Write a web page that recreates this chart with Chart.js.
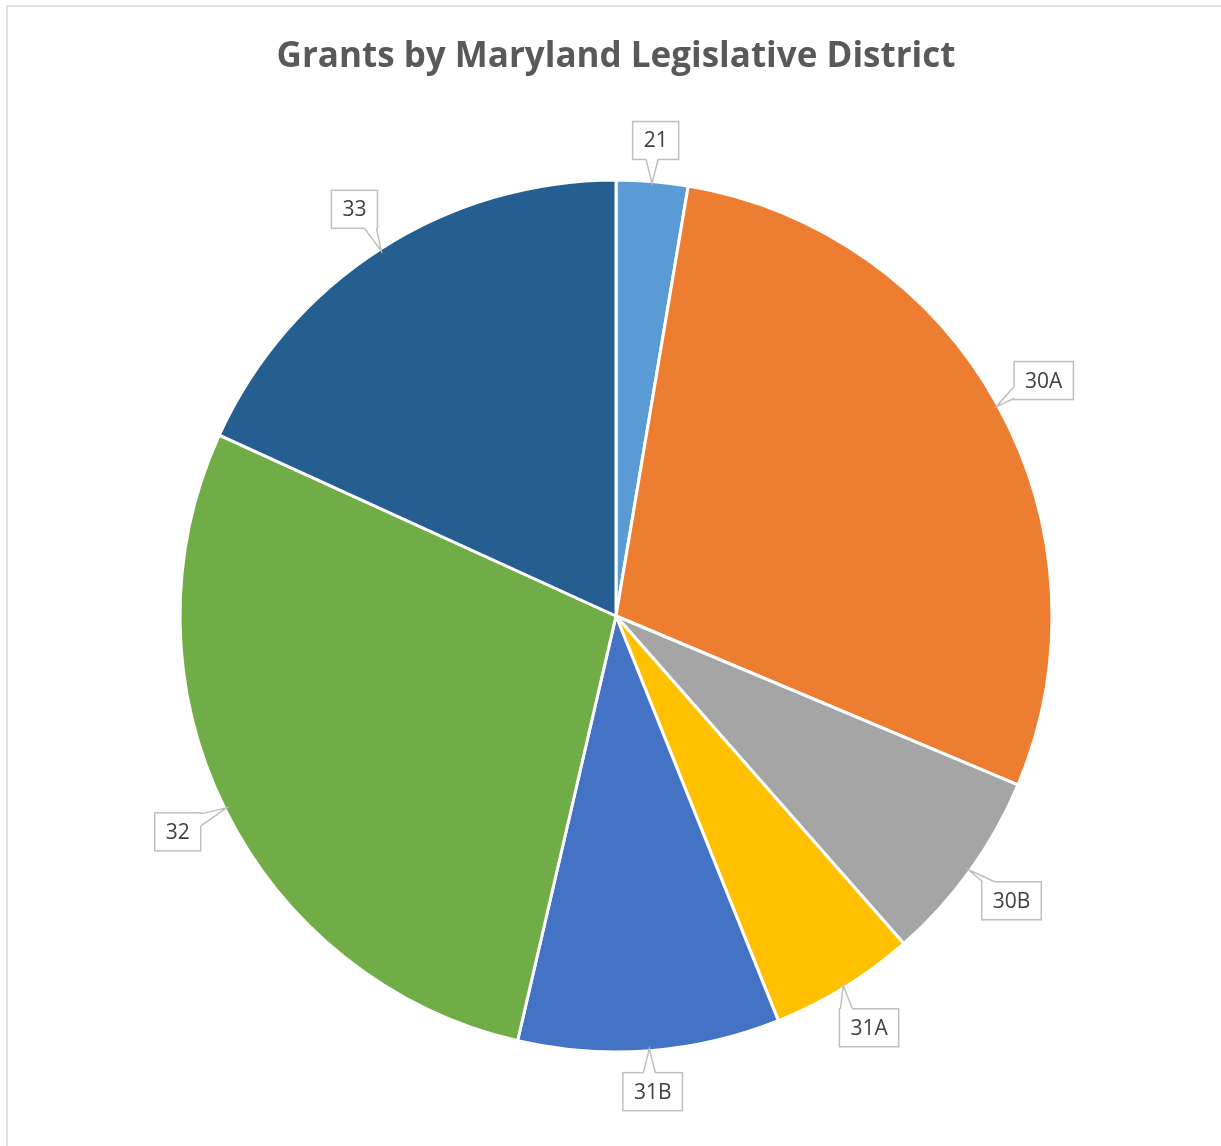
<!DOCTYPE html>
<html>
<head>
<meta charset="utf-8">
<title>Grants by Maryland Legislative District</title>
<script src="https://cdn.jsdelivr.net/npm/chart.js@4.4.0/dist/chart.umd.min.js"></script>
<style>
  body { margin: 0; background: #fff; }
</style>
</head>
<body>
<canvas id="districtChart" width="1221" height="1146"></canvas>
<script>
// share of grants per district (percent)
const districts = ["21", "30A", "30B", "31A", "31B", "32", "33"];
const grantShares = [2.65, 28.7, 7.2, 5.4, 9.7, 28.2, 18.2];
const sliceColors = [
  "#5B9BD5",
  "#ED7D31",
  "#A5A5A5",
  "#FFC000",
  "#4472C4",
  "#70AD47",
  "#255E91",
];

function clamp(v, lo, hi) {
  return Math.max(lo, Math.min(hi, v));
}

// light frame round the chart, like the Excel chart area
const framePlugin = {
  id: "frame",
  beforeDraw(chart) {
    const ctx = chart.ctx;
    ctx.save();
    ctx.strokeStyle = "#D9D9D9";
    ctx.lineWidth = 1.5;
    ctx.beginPath();
    ctx.moveTo(7, chart.height);
    ctx.lineTo(7, 6);
    ctx.lineTo(chart.width, 6);
    ctx.stroke();
    ctx.restore();
  },
};

// callout boxes with a pointer to each slice
const calloutPlugin = {
  id: "callouts",
  afterDatasetsDraw(chart) {
    const ctx = chart.ctx;
    const meta = chart.getDatasetMeta(0);
    ctx.save();
    ctx.font = '21px "Open Sans"';
    ctx.textAlign = "center";
    ctx.textBaseline = "middle";
    meta.data.forEach((arc, i) => {
      const p = arc.getProps(["x", "y", "startAngle", "endAngle", "outerRadius"]);
      const mid = (p.startAngle + p.endAngle) / 2;
      const ux = Math.cos(mid);
      const uy = Math.sin(mid);
      const dist = p.outerRadius + 40 + 14 * Math.abs(ux);
      const cx = p.x + ux * dist;
      const cy = p.y + uy * dist;
      const text = chart.data.labels[i];
      const w = ctx.measureText(text).width + 22;
      const h = 38;
      const hw = w / 2;
      const hh = h / 2;
      const tip = { x: p.x + ux * (p.outerRadius - 2), y: p.y + uy * (p.outerRadius - 2) };

      ctx.fillStyle = "#FFFFFF";
      ctx.strokeStyle = "#BFBFBF";
      ctx.lineWidth = 1.5;
      ctx.fillRect(cx - hw, cy - hh, w, h);
      ctx.strokeRect(cx - hw, cy - hh, w, h);

      // tail base on the edge facing the slice
      const rx = (tip.x - cx) / hw;
      const ry = (tip.y - cy) / hh;
      let b1, b2, in1, in2;
      if (Math.abs(rx) > Math.abs(ry)) {
        const s = Math.sign(rx);
        const ex = cx + s * hw;
        const t = clamp(tip.y, cy - hh + 7, cy + hh - 7);
        b1 = { x: ex, y: t - 6 };
        b2 = { x: ex, y: t + 6 };
        in1 = { x: ex - s * 2, y: t - 6 };
        in2 = { x: ex - s * 2, y: t + 6 };
      } else {
        const s = Math.sign(ry);
        const ey = cy + s * hh;
        const t = clamp(tip.x, cx - hw + 7, cx + hw - 7);
        b1 = { x: t - 6, y: ey };
        b2 = { x: t + 6, y: ey };
        in1 = { x: t - 6, y: ey - s * 2 };
        in2 = { x: t + 6, y: ey - s * 2 };
      }
      ctx.beginPath();
      ctx.moveTo(in1.x, in1.y);
      ctx.lineTo(b1.x, b1.y);
      ctx.lineTo(tip.x, tip.y);
      ctx.lineTo(b2.x, b2.y);
      ctx.lineTo(in2.x, in2.y);
      ctx.closePath();
      ctx.fill();
      ctx.beginPath();
      ctx.moveTo(b1.x, b1.y);
      ctx.lineTo(tip.x, tip.y);
      ctx.lineTo(b2.x, b2.y);
      ctx.stroke();

      ctx.fillStyle = "#404040";
      ctx.fillText(text, cx, cy + 1);
    });
    ctx.restore();
  },
};

const ctxDistrict = document.getElementById("districtChart").getContext("2d");
const districtChart = new Chart(ctxDistrict, {
  type: "pie",
  data: {
    labels: districts,
    datasets: [
      {
        label: "Grants",
        data: grantShares,
        backgroundColor: sliceColors,
        borderColor: "#FFFFFF",
        borderWidth: 3,
      },
    ],
  },
  options: {
    responsive: false,
    animation: false,
    radius: 436,
    layout: {
      padding: { top: 26, bottom: 2, left: 11, right: 0 },
    },
    plugins: {
      legend: { display: false },
      tooltip: { enabled: false },
      title: {
        display: true,
        text: "Grants by Maryland Legislative District",
        color: "#595959",
        font: { family: "Open Sans", size: 35, weight: "bold" },
        padding: { top: 10, bottom: 10 },
      },
    },
  },
  plugins: [framePlugin, calloutPlugin],
});
</script>
</body>
</html>
